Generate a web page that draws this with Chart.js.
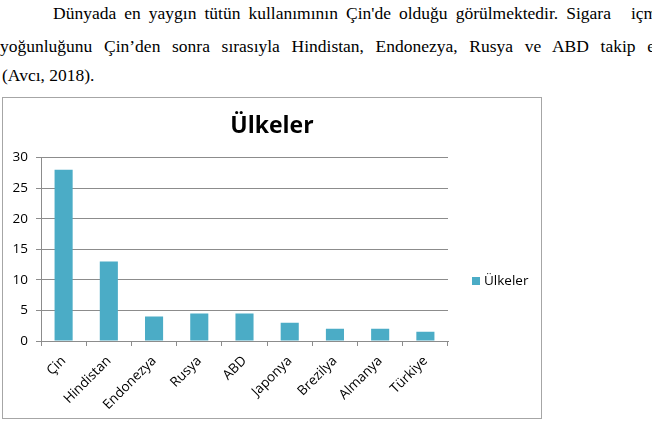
<!DOCTYPE html>
<html>
<head>
<meta charset="utf-8">
<script src="https://cdn.jsdelivr.net/npm/chart.js@4.4.0/dist/chart.umd.min.js"></script>
<style>
  body { margin: 0; width: 652px; height: 429px; overflow: hidden; background: #fff; position: relative; }
  .line { position: absolute; font-family: "Liberation Serif", "Times New Roman", serif; font-size: 17.5px; line-height: 20px; color: #000; white-space: nowrap; text-align: justify; text-align-last: justify; }
  #box { position: absolute; left: 2px; top: 97px; width: 540px; height: 322px; box-sizing: border-box; border: 1px solid #a6a6a6; background: #fff; }
  #chart { position: absolute; left: 0; top: 0; }
</style>
</head>
<body>
<div class="line" style="left:53px; top:3px; width:612px;">Dünyada en yaygın tütün kullanımının Çin'de olduğu görülmektedir. Sigara <span style="margin-left:12px">içme</span></div>
<div class="line" style="left:0px; top:36px; width:722px;">yoğunluğunu Çin’den sonra sırasıyla Hindistan, Endonezya, Rusya ve ABD takip etmektedir</div>
<div class="line" style="left:2px; top:65px; text-align:left; text-align-last:left;">(Avcı, 2018).</div>

<div id="box"><canvas id="chart" width="538" height="320"></canvas></div>

<script>
'use strict';

// DATA
var countries = ['Çin', 'Hindistan', 'Endonezya', 'Rusya', 'ABD', 'Japonya', 'Brezilya', 'Almanya', 'Türkiye'];
var values = [28, 13, 4, 4.5, 4.5, 3, 2, 2, 1.5];
var seriesName = 'Ülkeler';
var chartTitle = 'Ülkeler';
var yMin = 0;
var yMax = 30;
var yStep = 5;

var barColor = '#4BACC6';
var gridColor = '#8c8c8c';
var fontName = '"Open Sans", sans-serif';

// LEGEND ON THE RIGHT (drawn by hand, Excel style)
var sideLegend = {
  id: 'sideLegend',
  afterDraw: function(chart) {
    var ctx = chart.ctx;
    var ds = chart.data.datasets[0];
    ctx.save();
    ctx.fillStyle = ds.backgroundColor;
    ctx.fillRect(469, 179, 8, 8);
    ctx.fillStyle = '#000';
    ctx.font = '13.5px ' + fontName;
    ctx.textBaseline = 'middle';
    ctx.textAlign = 'left';
    ctx.fillText(ds.label, 481, 183);
    ctx.restore();
  }
};

var ctx = document.getElementById('chart');
var myChart = new Chart(ctx, {
  type: 'bar',
  data: {
    labels: countries,
    datasets: [{
      label: seriesName,
      data: values,
      backgroundColor: barColor,
      barPercentage: 0.8,
      categoryPercentage: 0.5
    }]
  },
  options: {
    responsive: false,
    animation: false,
    devicePixelRatio: 1,
    layout: { padding: 0 },
    plugins: {
      legend: { display: false },
      tooltip: { enabled: false },
      title: {
        display: true,
        text: chartTitle,
        color: '#000',
        font: { family: fontName, size: 23, weight: 'bold' },
        padding: { top: 15, bottom: 17 }
      }
    },
    scales: {
      x: {
        grid: { offset: true, drawOnChartArea: false, tickLength: 5, color: gridColor },
        border: { color: gridColor },
        ticks: { minRotation: 45, maxRotation: 45, color: '#000', padding: 7, font: { family: fontName, size: 13.5 } },
        afterFit: function(s) { s.height = 77; }
      },
      y: {
        min: yMin,
        max: yMax,
        ticks: { stepSize: yStep, color: '#000', padding: 8, font: { family: fontName, size: 13.5 } },
        grid: { color: gridColor, tickLength: 5 },
        border: { color: gridColor },
        afterFit: function(s) { s.width = 38; }
      },
      // empty space on the right for the legend
      side: {
        position: 'right',
        display: true,
        grid: { display: false },
        border: { display: false },
        ticks: { display: false },
        afterFit: function(s) { s.width = 93; }
      }
    }
  },
  plugins: [sideLegend]
});
</script>
</body>
</html>
